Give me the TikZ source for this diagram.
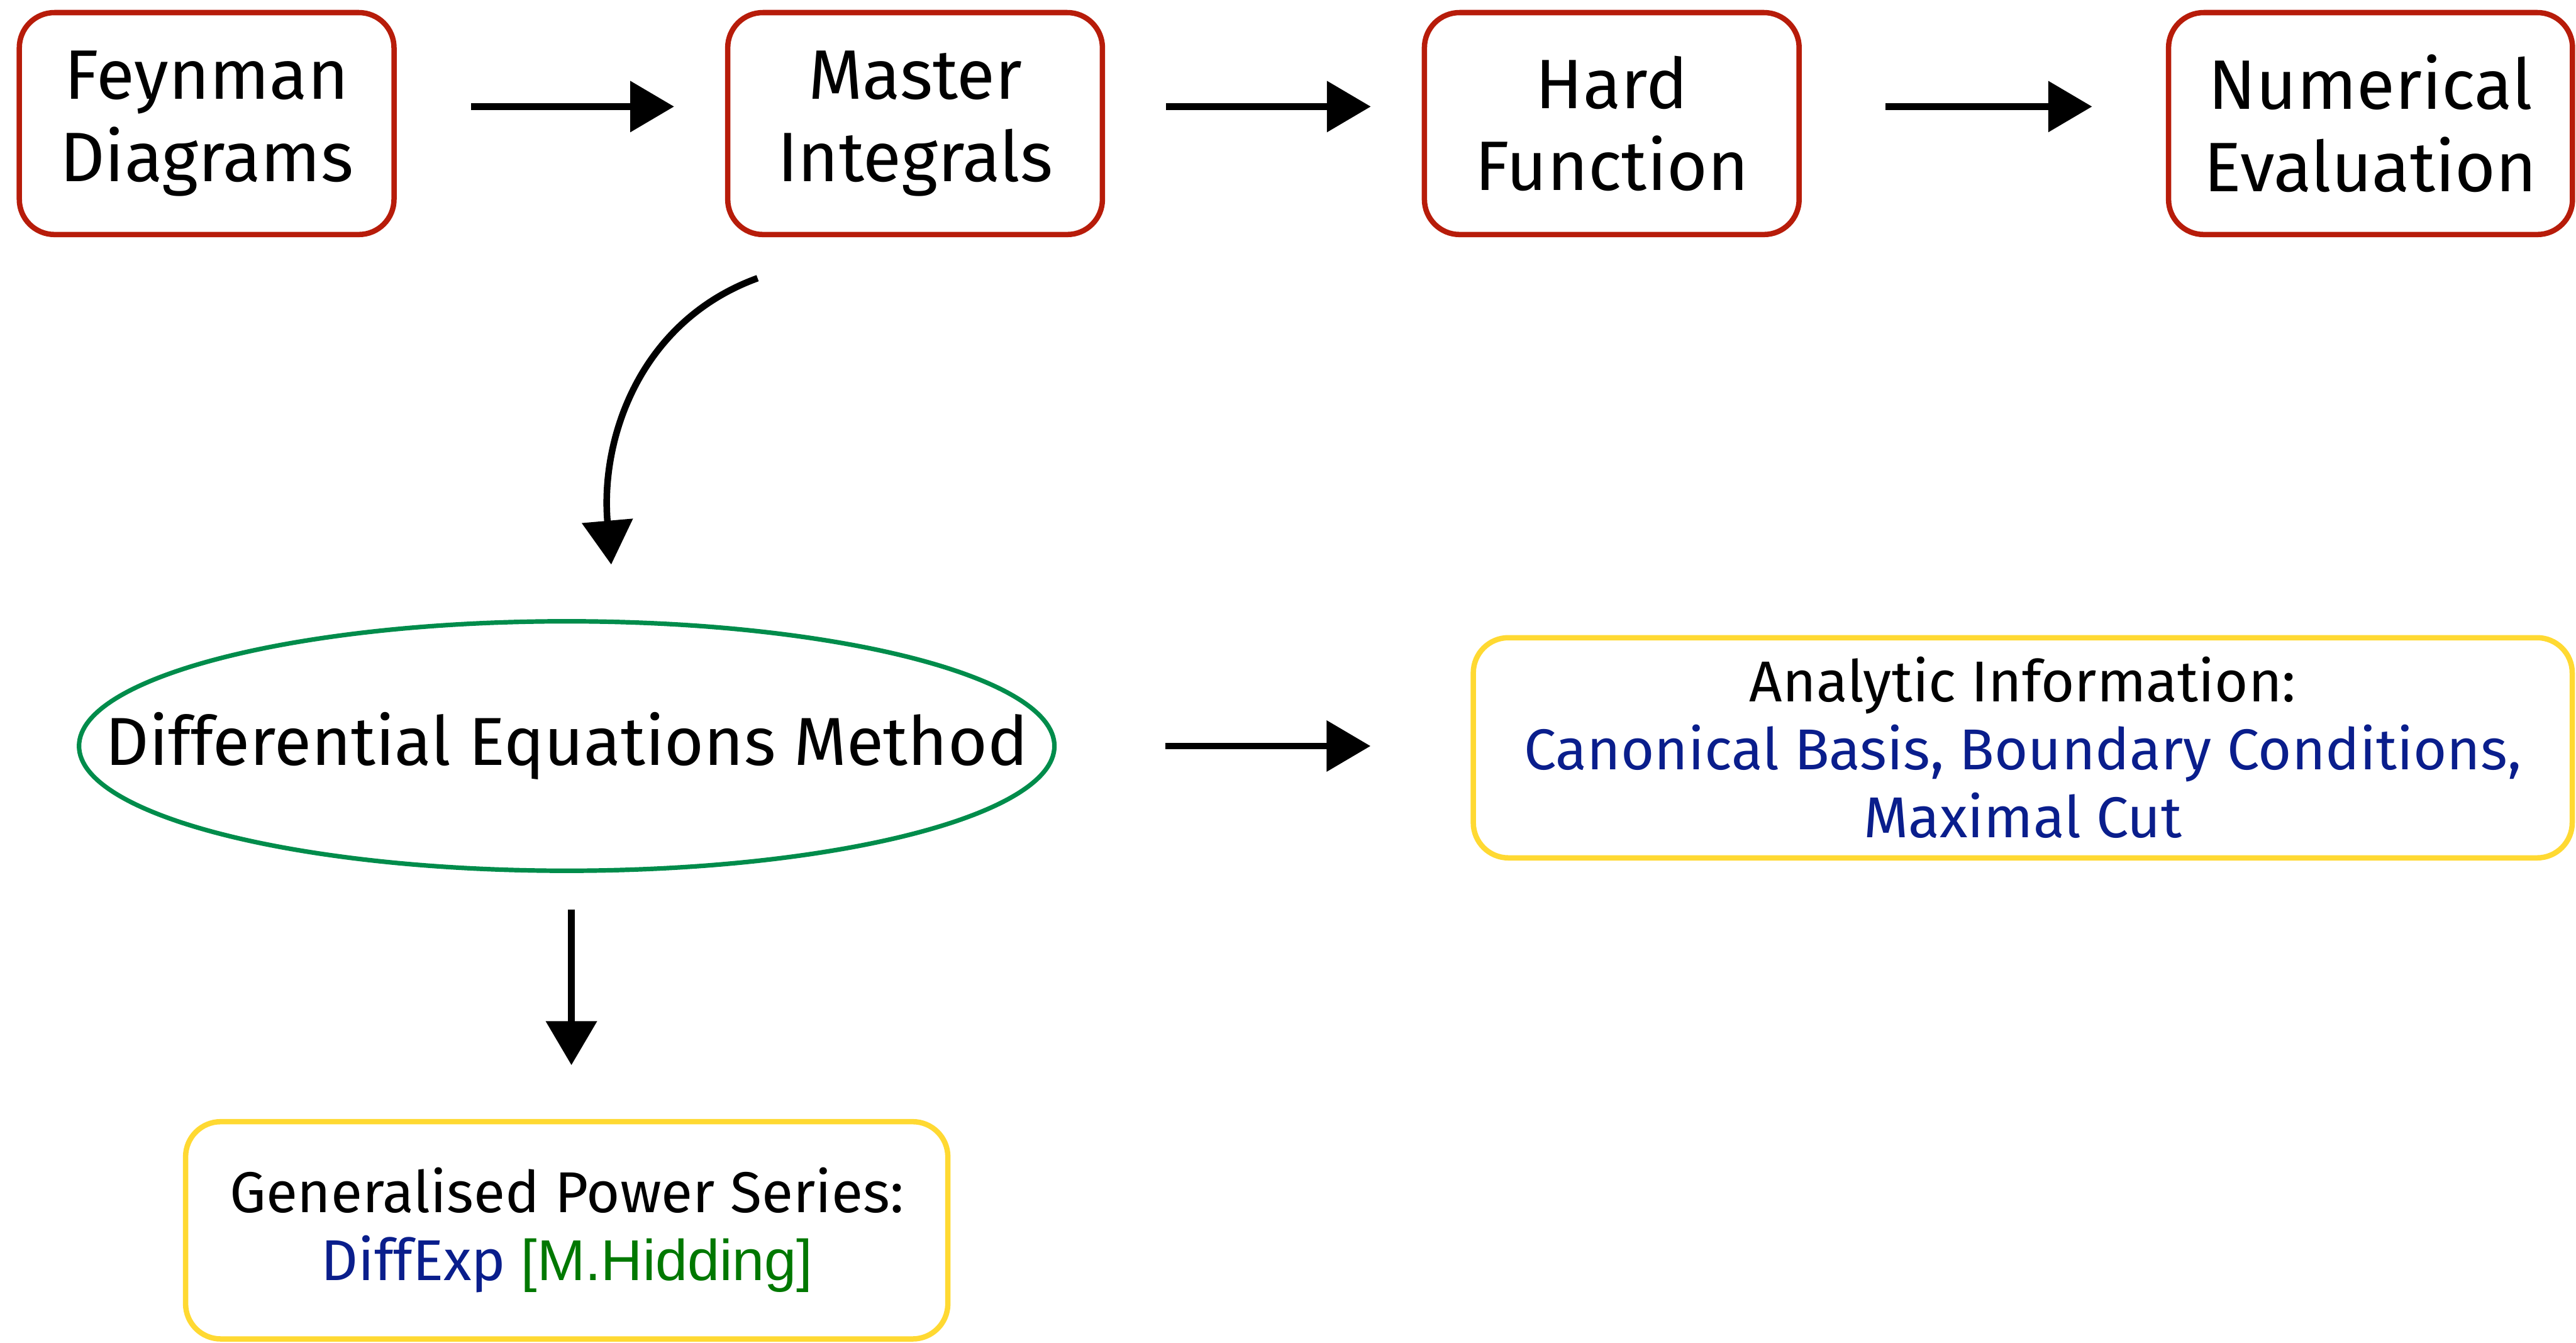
\documentclass[tikz,border=0pt]{standalone}
\usepackage{fontspec}
\setmainfont{Fira Sans}
\newfontfamily\arialfont{Liberation Sans}
\usetikzlibrary{arrows.meta,shapes.geometric,calc}
\definecolor{boxred}{RGB}{183,28,10}
\definecolor{boxyellow}{RGB}{255,217,50}
\definecolor{ellgreen}{RGB}{0,140,75}
\definecolor{txtblue}{RGB}{10,30,140}
\definecolor{txtgreen}{RGB}{0,120,0}
\begin{document}
\begin{tikzpicture}[
  redbox/.style={draw=boxred, line width=2.6pt, rounded corners=0.6cm,
    minimum width=6.4cm, minimum height=3.79cm, inner sep=0pt, align=center,
    font=\fontsize{34}{40}\selectfont},
  yellowbox/.style={draw=boxyellow, line width=2.6pt, rounded corners=0.6cm,
    inner sep=0pt, align=center, font=\fontsize{28}{33}\selectfont},
  greenell/.style={draw=ellgreen, line width=2.2pt, ellipse, inner sep=0pt,
    minimum width=16.66cm, minimum height=4.26cm, font=\fontsize{33}{38}\selectfont},
  arr/.style={line width=3.2pt, -{Triangle[length=0.75cm,width=0.85cm]}},
]
\useasboundingbox (0,0) rectangle (44,-22.93);

\node[redbox] (fd) at (3.53,-2.11) {Feynman\\Diagrams};
\node[redbox] (mi) at (15.63,-2.11) {Master\\Integrals};
\node[redbox] (hf) at (27.53,-2.11) {Hard\\Function};
\node[redbox, minimum width=6.9cm] (ne) at (40.49,-2.11) {Numerical\\Evaluation};

\node[greenell] (de) at (9.68,-12.74) {\makebox[0pt]{Differential Equations Method}};

\node[yellowbox, minimum width=18.77cm, minimum height=3.76cm] (ai) at (34.55,-12.77)
  {Analytic Information:\\ \textcolor{txtblue}{Canonical Basis, Boundary Conditions,}\\ \textcolor{txtblue}{Maximal Cut}};

\node[yellowbox, minimum width=13.02cm, minimum height=3.71cm] (gp) at (9.68,-21.01)
  {Generalised Power Series:\\ \textcolor{txtblue}{DiffExp} \textcolor{txtgreen}{\arialfont [M.Hidding]}};

\draw[arr, shorten <=1.27cm, shorten >=0.87cm] ([yshift=0.29cm]fd.east) -- ([yshift=0.29cm]mi.west);
\draw[arr, shorten <=1.04cm, shorten >=0.87cm] ([yshift=0.29cm]mi.east) -- ([yshift=0.29cm]hf.west);
\draw[arr, shorten <=1.43cm, shorten >=1.26cm] ([yshift=0.29cm]hf.east) -- ([yshift=0.29cm]ne.west);

\draw[arr] ([xshift=-2.69cm,yshift=-0.70cm]mi.south) to[out=200,in=95] ([xshift=0.76cm,yshift=0.93cm]de.north);

\draw[arr, shorten <=1.86cm, shorten >=1.71cm] (de.east) -- (de.east -| ai.west);
\draw[arr, shorten <=0.62cm, shorten >=0.92cm] ([xshift=0.08cm]de.south) -- ([xshift=0.08cm]gp.north);
\end{tikzpicture}
\end{document}
